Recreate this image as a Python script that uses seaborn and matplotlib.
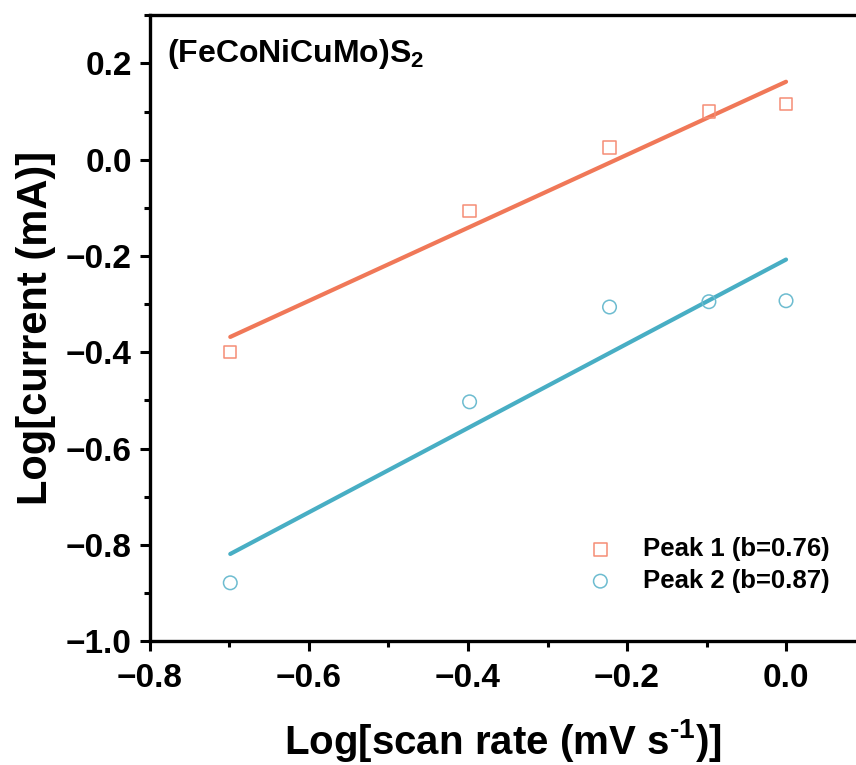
import numpy as np
import pandas as pd
import matplotlib
matplotlib.use("Agg")
import matplotlib.pyplot as plt
from matplotlib.ticker import MultipleLocator
import seaborn as sns

# log scan rate (x) and log peak current (y)
log_scan_rate = [-0.699, -0.398, -0.222, -0.097, 0.0]
peak1_current = [-0.399, -0.106, 0.025, 0.100, 0.116]
peak2_current = [-0.879, -0.503, -0.306, -0.295, -0.293]
peak_labels = ["Peak 1 (b=0.76)", "Peak 2 (b=0.87)"]
line_colors = ["#F07858", "#48AEC4"]
marker_colors = ["#F58D75", "#6DBCD0"]
markers = ["s", "o"]
sample_name = r"(FeCoNiCuMo)S$_2$"


def main():
    sns.set_style("ticks")
    plt.rcParams["font.family"] = ["Liberation Sans", "DejaVu Sans"]
    plt.rcParams["font.weight"] = "bold"
    plt.rcParams["mathtext.fontset"] = "custom"
    plt.rcParams["mathtext.rm"] = "Liberation Sans:bold"
    plt.rcParams["mathtext.bf"] = "Liberation Sans:bold"
    plt.rcParams["mathtext.default"] = "rm"
    for key in ["text.color", "axes.labelcolor", "xtick.color", "ytick.color",
                "axes.edgecolor"]:
        plt.rcParams[key] = "black"

    fig = plt.figure(figsize=(8.56, 7.65), dpi=100)
    ax = fig.add_axes([0.1752, 0.162, 0.8248, 0.818])

    df = pd.DataFrame({"x": log_scan_rate})
    for i, y in enumerate([peak1_current, peak2_current]):
        df["y"] = y
        # linear fit in log-log space
        slope, icpt = np.polyfit(df["x"], df["y"], 1)
        fit_df = pd.DataFrame({"x": [min(log_scan_rate), max(log_scan_rate)]})
        fit_df["y"] = slope * fit_df["x"] + icpt
        sns.lineplot(data=fit_df, x="x", y="y", color=line_colors[i], lw=3,
                     solid_capstyle="round", legend=False, ax=ax)
        sns.scatterplot(data=df, x="x", y="y", marker=markers[i],
                        s=80 if markers[i] == "s" else 95,
                        facecolor="none", edgecolor=marker_colors[i],
                        linewidth=1.1, label=peak_labels[i], ax=ax, zorder=3)

    ax.set_xlim(-0.8, 0.088)
    ax.set_ylim(-1.0, 0.3)
    ax.xaxis.set_major_locator(MultipleLocator(0.2))
    ax.xaxis.set_minor_locator(MultipleLocator(0.1))
    ax.yaxis.set_major_locator(MultipleLocator(0.2))
    ax.yaxis.set_minor_locator(MultipleLocator(0.1))
    ax.tick_params(which="major", direction="out", length=7, width=2.2,
                   labelsize=24, pad=6)
    ax.tick_params(axis="x", which="major", pad=9)
    ax.tick_params(which="minor", direction="out", length=4, width=2.2)
    for side in ["left", "bottom", "top"]:
        ax.spines[side].set_linewidth(2.4)
    ax.spines["right"].set_visible(False)

    ax.set_xlabel(r"Log[scan rate (mV s$^{\text{-}1}$)]", fontsize=29,
                  fontweight="bold", labelpad=16)
    ax.set_ylabel("Log[current (mA)]", fontsize=30, fontweight="bold",
                  labelpad=7)

    ax.text(0.024, 0.965, sample_name, transform=ax.transAxes, fontsize=23,
            fontweight="bold", va="top", ha="left")

    ax.legend(loc="lower right", bbox_to_anchor=(0.995, 0.04), frameon=False,
              prop={"size": 18.5, "weight": "bold"}, handletextpad=0.9,
              labelspacing=0.3, handlelength=1.5)

    fig.savefig("out.png", dpi=100)
    plt.close(fig)


if __name__ == "__main__":
    main()
